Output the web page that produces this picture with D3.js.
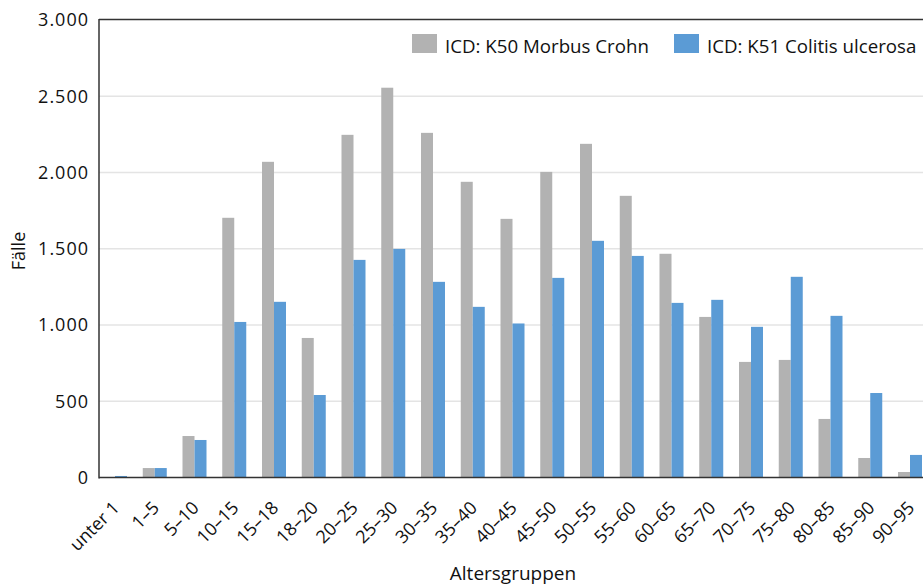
<!DOCTYPE html>
<html><head><meta charset="utf-8">
<script src="https://cdn.jsdelivr.net/npm/d3@7/dist/d3.min.js"></script>
<style>body{margin:0;background:#fff}svg{display:block}text{font-family:"Open Sans",sans-serif;fill:#111}</style>
</head><body><svg id="c" width="923" height="586"></svg>
<script>
const categories=["unter 1","1–5","5–10","10–15","15–18","18–20","20–25","25–30","30–35","35–40","40–45","45–50","50–55","55–60","60–65","65–70","70–75","75–80","80–85","85–90","90–95"];
const seriesNames=["ICD: K50 Morbus Crohn","ICD: K51 Colitis ulcerosa"];
const crohn=[0,62,272,1703,2070,915,2247,2556,2260,1939,1696,2004,2188,1847,1467,1053,758,771,384,128,36];
const colitis=[10,62,246,1020,1152,541,1427,1499,1283,1119,1010,1309,1552,1453,1145,1165,988,1316,1060,554,148];
const yTicks=[0,500,1000,1500,2000,2500,3000];
const colors=["#b2b2b2","#5b9bd5"];

const svg=d3.select("#c");
const L=99,T=20,B=477.5;
const step=39.75;
const x=d3.scaleBand().domain(categories).range([115-step/2,115-step/2+step*categories.length]).padding(0);
const xs=d3.scaleBand().domain([0,1]).range([0,24]);
const y=d3.scaleLinear().domain([0,3000]).range([B,T]);
const fmt=v=>d3.format(",")(v).replace(/,/g,".");

// gridlines
svg.append("g").selectAll("line").data(yTicks.filter(t=>t>0&&t<3000)).join("line")
 .attr("x1",L).attr("x2",923).attr("y1",d=>y(d)).attr("y2",d=>y(d))
 .attr("stroke","#e4e4e4").attr("stroke-width",1.5);

// bars
const series=[crohn,colitis];
series.forEach((vals,si)=>{
  svg.append("g").selectAll("rect").data(vals).join("rect")
   .attr("x",(d,i)=>x(categories[i])+x.bandwidth()/2-12+xs(si))
   .attr("width",xs.bandwidth())
   .attr("y",d=>y(d)).attr("height",d=>B-y(d))
   .attr("fill",colors[si]);
});

// axes lines
svg.append("line").attr("x1",L).attr("x2",923).attr("y1",T-0.5).attr("y2",T-0.5).attr("stroke","#333").attr("stroke-width",1.5);
svg.append("line").attr("x1",L).attr("x2",L).attr("y1",T-1).attr("y2",B+1).attr("stroke","#333").attr("stroke-width",1.5);
svg.append("line").attr("x1",L).attr("x2",923).attr("y1",B).attr("y2",B).attr("stroke","#333").attr("stroke-width",1.5);

// y tick labels
svg.append("g").selectAll("text").data(yTicks).join("text")
 .attr("x",89).attr("y",d=>y(d)).attr("dy","0.36em").attr("text-anchor","end")
 .style("font-size","18px").style("letter-spacing","1px").text(fmt);

// x tick labels
svg.append("g").selectAll("text").data(categories).join("text")
 .attr("transform",d=>`translate(${x(d)+x.bandwidth()/2+1},${B+27}) rotate(-45)`)
 .attr("text-anchor","end").attr("dy","0.35em")
 .style("font-size","18px").text(d=>d);

// axis titles
svg.append("text").attr("x",513).attr("y",580).attr("text-anchor","middle").style("font-size","19px").text("Altersgruppen");
svg.append("text").attr("transform","translate(25,251) rotate(-90)").attr("text-anchor","middle").style("font-size","18px").text("Fälle");

// legend
const leg=[{x:412,tx:445},{x:674,tx:707}];
leg.forEach((l,i)=>{
  svg.append("rect").attr("x",l.x).attr("y",34).attr("width",25).attr("height",19).attr("fill",colors[i]);
  svg.append("text").attr("x",l.tx).attr("y",53).style("font-size","18.7px").text(seriesNames[i]);
});
</script></body></html>
